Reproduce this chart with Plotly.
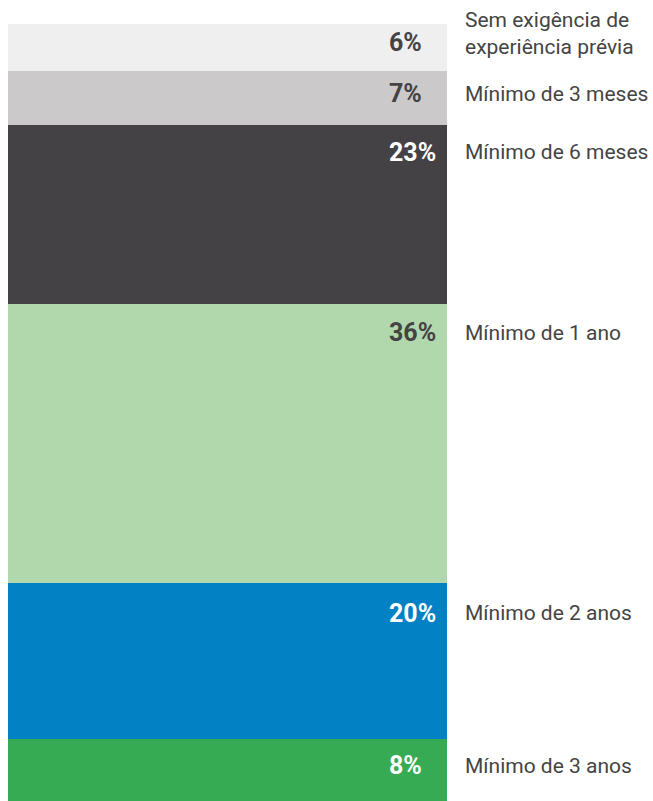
import plotly.graph_objects as go

# Experience requirement shares, listed top to bottom of the stacked column
categories = [
    "Sem exigência de<br>experiência prévia",
    "Mínimo de 3 meses",
    "Mínimo de 6 meses",
    "Mínimo de 1 ano",
    "Mínimo de 2 anos",
    "Mínimo de 3 anos",
]
shares = [6, 7, 23, 36, 20, 8]
value_labels = ["6%", "7%", "23%", "36%", "20%", "8%"]

bar_colors = ["#efefef", "#cbc9ca", "#454245", "#b0d8ac", "#0281c4", "#36ab54"]
text_colors = ["#454245", "#454245", "#ffffff", "#454245", "#ffffff", "#ffffff"]
# pixel drop of each label's centre below the top edge of its segment
label_drop = [18, 23, 27, 29, 30, 27]
category_drop = [9, 23, 27, 29, 30, 27]

fig = go.Figure()
for cat, val, col in zip(categories, shares, bar_colors):
    fig.add_trace(go.Bar(
        x=[0], y=[val], width=1, marker=dict(color=col, line=dict(width=0)),
        name=cat, hoverinfo="skip", showlegend=False,
    ))

tops = []
acc = 0
for v in shares:
    tops.append(acc)
    acc += v

annotations = []
for i, (cat, lab, top) in enumerate(zip(categories, value_labels, tops)):
    annotations.append(dict(
        x=0.5, y=top, xref="x", yref="y", text=f"<b>{lab}</b>",
        xanchor="left", yanchor="middle", xshift=-60, yshift=-label_drop[i],
        showarrow=False, font=dict(family="Roboto", size=25, color=text_colors[i]),
    ))
    annotations.append(dict(
        x=1, y=top, xref="paper", yref="y", text=cat, align="left",
        xanchor="left", yanchor="middle", xshift=16, yshift=-category_drop[i],
        showarrow=False, font=dict(family="Roboto", size=21, color="#444444"),
    ))

fig.update_layout(
    barmode="stack", bargap=0,
    width=653, height=801,
    margin=dict(l=8, r=206, t=24, b=0, pad=0),
    paper_bgcolor="white", plot_bgcolor="white",
    xaxis=dict(range=[-0.5, 0.5], visible=False, fixedrange=True),
    yaxis=dict(range=[100, 0], visible=False, fixedrange=True),
    annotations=annotations,
)

fig.write_html("out.html", config={"displayModeBar": False})
